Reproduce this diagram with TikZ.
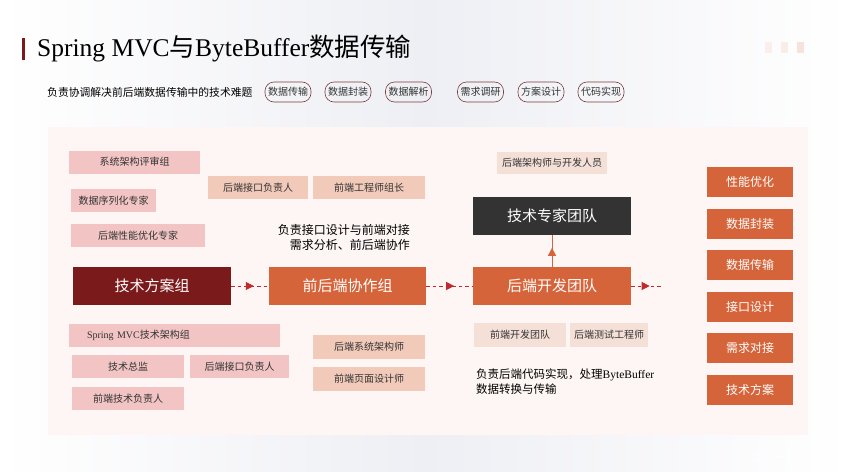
\documentclass[tikz,border=0pt]{standalone}
\usepackage{fontspec}
\setmainfont{Noto Sans CJK SC}
\newfontfamily\lat{Liberation Serif}
\usetikzlibrary{arrows.meta,decorations.markings}

\definecolor{darkred}{HTML}{7B1A1A}
\definecolor{burnt}{HTML}{D6643A}
\definecolor{charcoal}{HTML}{333333}
\definecolor{rosepink}{HTML}{F2C4C4}
\definecolor{salmon}{HTML}{F1CAB9}
\definecolor{blush}{HTML}{F5E0D8}
\definecolor{panel}{HTML}{FDF6F4}
\definecolor{bgray}{HTML}{EEEFF4}
\definecolor{arrowred}{HTML}{BE2A2E}
\definecolor{textgray}{HTML}{333333}
\definecolor{pillline}{HTML}{7A3A3A}

\tikzset{
  smallbox/.style={inner sep=0pt, minimum height=23pt, text=textgray,
    font=\fontsize{10}{12}\selectfont},
  pinkbox/.style={smallbox, fill=rosepink},
  salmonbox/.style={smallbox, fill=salmon},
  blushbox/.style={smallbox, fill=blush},
  groupbox/.style={inner sep=0pt, minimum width=158pt, minimum height=38pt,
    text=white, font=\fontsize{15}{18}\selectfont},
  topicbox/.style={inner sep=0pt, fill=burnt, minimum width=86pt,
    minimum height=30pt, text=white, font=\fontsize{12}{14}\selectfont},
  pill/.style={draw=pillline, line width=0.6pt, rounded corners=9pt,
    minimum width=46pt, minimum height=20pt, inner sep=0pt, text=textgray,
    font=\fontsize{10}{12}\selectfont},
  midarrow/.style={postaction={decorate}, decoration={markings,
    mark=at position 0.6 with {\arrow{Triangle[length=8pt,width=8pt]}}}},
  flowline/.style={draw=arrowred, line width=0.8pt, dash pattern=on 3.5pt off 3pt,
    midarrow},
}

\begin{document}
\begin{tikzpicture}[x=1pt,y=-1pt]
  \useasboundingbox (0,0) rectangle (851,471);
  % background
  \fill[white] (0,0) rectangle (851,471);
  \shade[left color=white, right color=white, middle color=bgray] (0,0) rectangle (851,471);
  \fill[panel] (48,127) rectangle (808,435);
  \fill[rosepink!50, opacity=0.5] (765,42) rectangle (772,53);
  \fill[salmon!60, opacity=0.5] (781,42) rectangle (788,53);
  \fill[salmon, opacity=0.5] (797,42) rectangle (804,53);

  % title
  \fill[darkred] (22,38) rectangle (25,60);
  \node (title) at (37,49) [anchor=west, inner sep=0pt, text=black,
    font=\fontsize{25.5}{28}\selectfont] {{\lat Spring MVC}与{\lat ByteBuffer}数据传输};
  \node (subtitle) at (47,92) [anchor=west, inner sep=0pt, text=black,
    font=\fontsize{10.8}{12}\selectfont] {负责协调解决前后端数据传输中的技术难题};
  \node (p1) at (288,92) [pill] {数据传输};
  \node (p2) at (348,92) [pill] {数据封装};
  \node (p3) at (408.5,92) [pill] {数据解析};
  \node (p4) at (480.5,92) [pill] {需求调研};
  \node (p5) at (541,92) [pill] {方案设计};
  \node (p6) at (601,92) [pill] {代码实现};

  % left group
  \node (review) at (134.5,162) [pinkbox, minimum width=131pt] {系统架构评审组};
  \node (serial) at (113.5,200.5) [pinkbox, minimum width=85pt] {数据序列化专家};
  \node (perf) at (138,235.5) [pinkbox, minimum width=134pt] {后端性能优化专家};
  \node (plan) at (152,286) [groupbox, fill=darkred] {技术方案组};
  \node (springmvc) at (174.5,335) [pinkbox, text width=175pt, inner xsep=18pt,
    align=left] {{\lat Spring MVC}技术架构组};
  \node (cto) at (128,366.5) [pinkbox, minimum width=112pt] {技术总监};
  \node (apilead) at (239.5,366.5) [pinkbox, minimum width=99pt] {后端接口负责人};
  \node (felead) at (128,398.5) [pinkbox, minimum width=112pt] {前端技术负责人};

  % collaboration group
  \node (apiowner) at (258,187.5) [salmonbox, minimum width=100pt] {后端接口负责人};
  \node (fechief) at (369,187.5) [salmonbox, minimum width=112pt] {前端工程师组长};
  \node (collabnote) at (410,237.5) [anchor=east, align=right, inner sep=0pt,
    text=black, font=\fontsize{12}{15}\selectfont] {负责接口设计与前端对接\\需求分析、前后端协作};
  \node (collab) at (347.5,286) [groupbox, minimum width=157pt, fill=burnt] {前后端协作组};
  \node (sysarch) at (369,347) [salmonbox, minimum width=112pt, minimum height=24pt] {后端系统架构师};
  \node (pagedes) at (369,379) [salmonbox, minimum width=112pt, minimum height=24pt] {前端页面设计师};

  % backend group
  \node (archdev) at (552,163) [blushbox, minimum width=110pt, minimum height=22pt] {后端架构师与开发人员};
  \node (expert) at (552,216) [groupbox, fill=charcoal] {技术专家团队};
  \node (backend) at (552,286) [groupbox, fill=burnt] {后端开发团队};
  \node (feteam) at (520,335) [blushbox, minimum width=92pt, minimum height=24pt] {前端开发团队};
  \node (tester) at (609,335) [blushbox, minimum width=78pt, minimum height=24pt] {后端测试工程师};
  \node (backnote) at (476,382) [anchor=west, align=left, inner sep=0pt,
    text=black, font=\fontsize{11.5}{15}\selectfont] {负责后端代码实现，处理{\lat ByteBuffer}\\数据转换与传输};

  % topics
  \node (t1) at (750,182) [topicbox] {性能优化};
  \node (t2) at (750,224) [topicbox] {数据封装};
  \node (t3) at (750,265) [topicbox] {数据传输};
  \node (t4) at (750,307) [topicbox] {接口设计};
  \node (t5) at (750,348) [topicbox] {需求对接};
  \node (t6) at (750,390) [topicbox] {技术方案};

  % connectors
  \coordinate (tail) at (662,286);
  \draw[flowline] (plan) -- (collab);
  \draw[flowline] (collab) -- (backend);
  \draw[flowline] (backend) -- (tail);
  \draw[draw=burnt, line width=0.6pt, midarrow] (backend) -- (expert);

  \node (watermark) at (790,457) [text=white, inner sep=0pt,
    font=\fontsize{11}{12}\selectfont] {文心一言AI生成};
\end{tikzpicture}
\end{document}
